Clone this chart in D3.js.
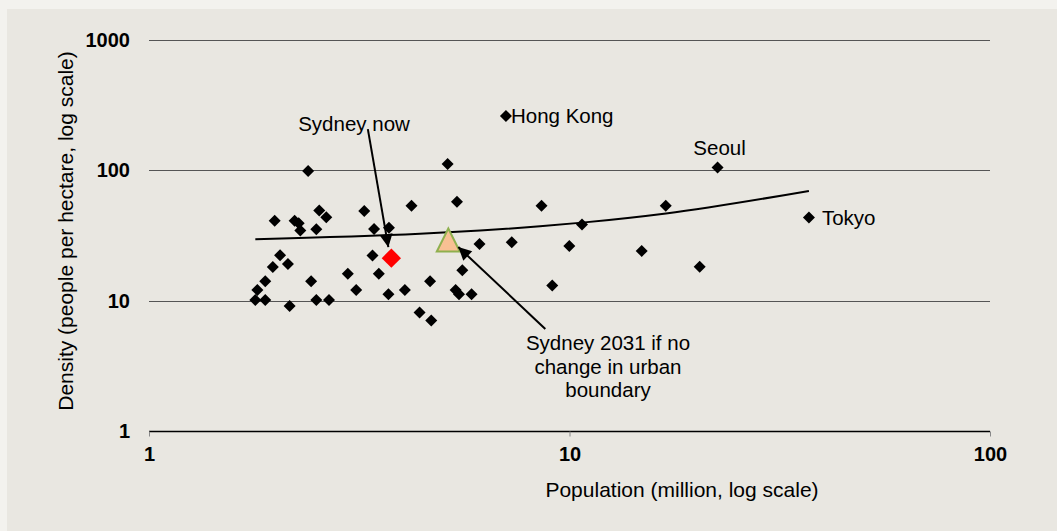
<!DOCTYPE html>
<html>
<head>
<meta charset="utf-8">
<script src="https://cdn.jsdelivr.net/npm/d3@7"></script>
<style>
  html, body { margin: 0; padding: 0; background: #f3f2ee; }
  svg { display: block; }
  text { font-family: "Liberation Sans", Arial, sans-serif; fill: #000; }
</style>
</head>
<body>
<svg id="chart" width="1057" height="531"></svg>
<script>
// City population (million) and urban density (people per hectare)
const cityPop = [
  2.39, 5.13, 1.99, 2.22, 2.27, 2.29, 2.50, 2.54, 2.64, 3.25,
  3.43, 3.72, 4.21, 5.40, 6.11, 3.40, 2.05, 1.97, 2.14, 1.89,
  1.81, 1.79, 1.89, 2.16, 2.43, 2.50, 2.68, 2.97, 3.11, 3.52,
  3.71, 4.06, 4.40, 4.69, 4.66, 5.56, 5.36, 5.46, 5.85, 7.06,
  7.29, 8.58, 9.99, 9.10, 10.71, 14.85, 16.94, 20.4, 22.5, 37.1
];
const cityDensity = [
  99, 112, 41.1, 41.1, 39.3, 34.5, 35.3, 49.1, 43.6, 48.8,
  35.5, 36.3, 53.6, 57.5, 27.2, 22.2, 22.3, 18.1, 19.1, 14.1,
  12.1, 10.1, 10.1, 9.1, 14.1, 10.1, 10.1, 16.1, 12.1, 16.1,
  11.2, 12.1, 8.1, 7.05, 14.1, 17.1, 12.1, 11.2, 11.2, 261,
  28.1, 53.6, 26.3, 13.1, 38.4, 24.1, 53.6, 18.2, 105, 43.4
];

// Named cities
const namedCities = ["Hong Kong", "Seoul", "Tokyo"];
const namedPop = [7.06, 22.5, 37.1];
const namedDensity = [261, 105, 43.4];

// Sydney today and in 2031 with the current urban boundary
const sydneyNow = { pop: 3.77, density: 21.2 };
const sydney2031 = { pop: 5.15, density: 29.2 };

// Trend line through the cities
const trendPop = [1.79, 4.41, 6.13, 8.51, 10.71, 16.96, 37.1];
const trendDensity = [29.6, 32.6, 34.5, 37.2, 39.7, 46.7, 69.5];

// Axis ticks
const xTicks = [1, 10, 100];
const yTicks = [1, 10, 100, 1000];
const xTickLabels = ["1", "10", "100"];
const yTickLabels = ["1", "10", "100", "1000"];

const svg = d3.select("#chart");

// Panel background
svg.append("rect")
  .attr("x", 7).attr("y", 9)
  .attr("width", 1057 - 7).attr("height", 531 - 9)
  .attr("fill", "#e9e7e1");

const x = d3.scaleLog().domain([1, 100]).range([149, 990]);
const y = d3.scaleLog().domain([1, 1000]).range([431, 40]);

// Horizontal gridlines
svg.append("g")
  .selectAll("line")
  .data(yTicks.filter(d => d !== 1))
  .join("line")
  .attr("x1", x(1)).attr("x2", x(100))
  .attr("y1", d => Math.round(y(d)) + 0.5)
  .attr("y2", d => Math.round(y(d)) + 0.5)
  .attr("stroke", "#555")
  .attr("stroke-width", 1);

// X axis
const xAxis = d3.axisBottom(x)
  .tickValues(xTicks)
  .tickFormat((d, i) => xTickLabels[i])
  .tickSize(5)
  .tickPadding(6);
const gx = svg.append("g")
  .attr("transform", `translate(0,${Math.round(y(1)) + 0.5})`)
  .call(xAxis);
gx.select(".domain").attr("stroke", "#000").attr("stroke-width", 1.3)
  .attr("d", `M${x(1)},0H${x(100)}`);
gx.selectAll(".tick line").attr("stroke", "#888");
gx.selectAll(".tick text")
  .attr("font-family", "Liberation Sans, Arial, sans-serif")
  .attr("font-size", 20).attr("font-weight", "bold").attr("fill", "#000")
  .attr("dy", "0.9em");

// Y axis labels
const yAxis = d3.axisLeft(y)
  .tickValues(yTicks)
  .tickFormat((d, i) => yTickLabels[i])
  .tickSize(0)
  .tickPadding(19);
const gy = svg.append("g")
  .attr("transform", `translate(${x(1)},0)`)
  .call(yAxis);
gy.select(".domain").remove();
gy.selectAll(".tick text")
  .attr("font-family", "Liberation Sans, Arial, sans-serif")
  .attr("font-size", 20).attr("font-weight", "bold").attr("fill", "#000");

// Axis titles
svg.append("text")
  .attr("x", 682).attr("y", 497)
  .attr("text-anchor", "middle")
  .attr("font-size", 21)
  .text("Population (million, log scale)");

svg.append("text")
  .attr("transform", `translate(73,231) rotate(-90)`)
  .attr("text-anchor", "middle")
  .attr("font-size", 21)
  .text("Density (people per hectare, log scale)");

// Trend line
const trend = trendPop.map((p, i) => [p, trendDensity[i]]);
svg.append("path")
  .datum(trend)
  .attr("fill", "none")
  .attr("stroke", "#000")
  .attr("stroke-width", 2)
  .attr("d", d3.line().x(d => x(d[0])).y(d => y(d[1])).curve(d3.curveMonotoneX));

// City markers (diamonds)
const diamond = d3.symbol().type(d3.symbolSquare).size(72)();
svg.append("g")
  .selectAll("path")
  .data(cityPop.map((p, i) => [p, cityDensity[i]]))
  .join("path")
  .attr("d", diamond)
  .attr("transform", d => `translate(${x(d[0])},${y(d[1])}) rotate(45)`)
  .attr("fill", "#000");

// City names
const labelOffsets = {
  "Hong Kong": { dx: 5, dy: 7, anchor: "start" },
  "Seoul": { dx: 2, dy: -13, anchor: "middle" },
  "Tokyo": { dx: 13, dy: 7, anchor: "start" }
};
svg.append("g")
  .selectAll("text")
  .data(namedCities.map((n, i) => ({ name: n, pop: namedPop[i], density: namedDensity[i] })))
  .join("text")
  .attr("x", d => x(d.pop) + labelOffsets[d.name].dx)
  .attr("y", d => y(d.density) + labelOffsets[d.name].dy)
  .attr("text-anchor", d => labelOffsets[d.name].anchor)
  .attr("font-size", 20.5)
  .text(d => d.name);

// Sydney now (red diamond)
const bigDiamond = d3.symbol().type(d3.symbolSquare).size(186)();
svg.append("path")
  .attr("d", bigDiamond)
  .attr("transform", `translate(${x(sydneyNow.pop)},${y(sydneyNow.density)}) rotate(45)`)
  .attr("fill", "#ff0000");

// Sydney 2031 (triangle)
{
  const cx = x(sydney2031.pop), cy = y(sydney2031.density);
  const p = d3.path();
  p.moveTo(cx, cy - 11.5);
  p.lineTo(cx + 11.5, cy + 11.5);
  p.lineTo(cx - 11.5, cy + 11.5);
  p.closePath();
  svg.append("path")
    .attr("d", p.toString())
    .attr("fill", "#f8c093")
    .attr("stroke", "#8fb04e")
    .attr("stroke-width", 2)
    .attr("stroke-linejoin", "miter");
}

// Annotation arrows
svg.append("defs").append("marker")
  .attr("id", "arrowhead")
  .attr("viewBox", "0 0 10 10")
  .attr("refX", 10).attr("refY", 5)
  .attr("markerWidth", 8).attr("markerHeight", 6.5)
  .attr("markerUnits", "strokeWidth")
  .attr("orient", "auto")
  .append("path")
  .attr("d", "M0,0L10,5L0,10Z")
  .attr("fill", "#000");

function arrow(x1, y1, x2, y2) {
  svg.append("line")
    .attr("x1", x1).attr("y1", y1).attr("x2", x2).attr("y2", y2)
    .attr("stroke", "#000").attr("stroke-width", 2)
    .attr("marker-end", "url(#arrowhead)");
}

const nowX = x(sydneyNow.pop), nowY = y(sydneyNow.density);
arrow(nowX - 23.5, nowY - 129, nowX - 3, nowY - 11);
svg.append("text")
  .attr("x", 354).attr("y", 131)
  .attr("text-anchor", "middle")
  .attr("font-size", 20.5)
  .text("Sydney now");

const futX = x(sydney2031.pop), futY = y(sydney2031.density);
arrow(futX + 97, futY + 89, futX + 10, futY + 7);
const noteLines = ["Sydney 2031 if no", "change in urban", "boundary"];
svg.append("text")
  .attr("text-anchor", "middle")
  .attr("font-size", 20.5)
  .selectAll("tspan")
  .data(noteLines)
  .join("tspan")
  .attr("x", 608)
  .attr("y", (d, i) => 350 + i * 23.5)
  .text(d => d);
</script>
</body>
</html>
